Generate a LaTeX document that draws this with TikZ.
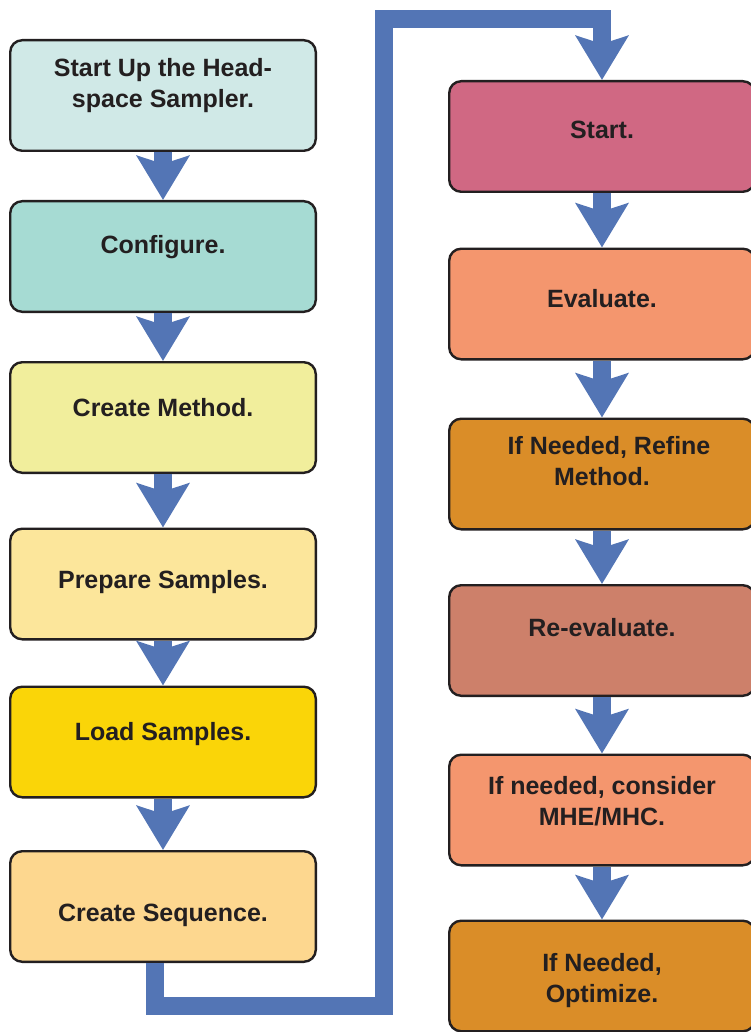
\documentclass[tikz,border=0pt]{standalone}
\usepackage{fontspec}
\setmainfont{Liberation Sans}
\usepackage{xcolor}
\usetikzlibrary{arrows.meta,positioning}

\definecolor{flowblue}{RGB}{83,117,181}
\definecolor{ink}{RGB}{35,31,32}
\definecolor{cHead}{RGB}{208,233,231}
\definecolor{cConf}{RGB}{166,219,211}
\definecolor{cMeth}{RGB}{241,238,156}
\definecolor{cPrep}{RGB}{252,230,155}
\definecolor{cLoad}{RGB}{250,213,8}
\definecolor{cSeq}{RGB}{253,215,143}
\definecolor{cStart}{RGB}{208,104,131}
\definecolor{cEval}{RGB}{244,150,110}
\definecolor{cRefine}{RGB}{218,141,40}
\definecolor{cReeval}{RGB}{205,128,106}

\begin{document}
\begin{tikzpicture}[
  x=1pt,y=-1pt,
  box/.style={draw=ink,line width=2.4pt,rounded corners=12pt,minimum width=305.6pt,minimum height=110.6pt,inner sep=0pt},
  txt/.style={font=\bfseries\fontsize{25}{31}\selectfont,text=ink,align=center,anchor=base,inner sep=0pt},
  flow/.style={draw=flowblue,line width=18pt,-{Stealth[length=44pt,width=52pt,inset=8pt]}}
]
\useasboundingbox (0,0) rectangle (751,1032);
\clip (0,0) rectangle (751,1032);
% left column
\node[box,fill=cHead] (headspace) at (163,95.5) {};
\node[box,fill=cConf] (configure) at (163,256.5) {};
\node[box,fill=cMeth] (method) at (163,417.5) {};
\node[box,fill=cPrep] (prepare) at (163,584) {};
\node[box,fill=cLoad] (load) at (163,742) {};
\node[box,fill=cSeq] (sequence) at (163,906.5) {};
% right column
\node[box,fill=cStart] (start) at (602,136.5) {};
\node[box,fill=cEval] (evaluate) at (602,304) {};
\node[box,fill=cRefine] (refine) at (602,474) {};
\node[box,fill=cReeval] (reeval) at (602,640.5) {};
\node[box,fill=cEval] (consider) at (602,810) {};
\node[box,fill=cRefine] (optimize) at (602,976) {};
\foreach \a/\b in {headspace/configure,configure/method,method/prepare,prepare/load,load/sequence,start/evaluate,evaluate/refine,refine/reeval,reeval/consider,consider/optimize}
  \draw[flow] (\a) -- (\b);
\coordinate (low) at (384,1006);
\coordinate (high) at (384,19);
\draw[flow] ([xshift=-8.5pt]sequence.south) |- (low) -- (high) -| (start);
% labels (base = last line)
\node[txt] (headspace-t) at (163,108) {Start Up the Head-\\space Sampler.};
\node[txt] (configure-t) at (163,253) {Configure.};
\node[txt] (method-t) at (163,416) {Create Method.};
\node[txt] (prepare-t) at (163,588) {Prepare Samples.};
\node[txt] (load-t) at (163,740) {Load Samples.};
\node[txt] (sequence-t) at (163,921) {Create Sequence.};
\node[txt] (start-t) at (602,139) {Start.};
\node[txt] (evaluate-t) at (602,307) {Evaluate.};
\node[txt] (refine-t) at (602,485) {\hspace*{14pt}If Needed, Refine\\Method.};
\node[txt] (reeval-t) at (602,636) {Re-evaluate.};
\node[txt] (consider-t) at (602,825) {If needed, consider\\MHE/MHC.};
\node[txt] (optimize-t) at (602,1002) {If Needed,\\Optimize.};
\end{tikzpicture}
\end{document}
